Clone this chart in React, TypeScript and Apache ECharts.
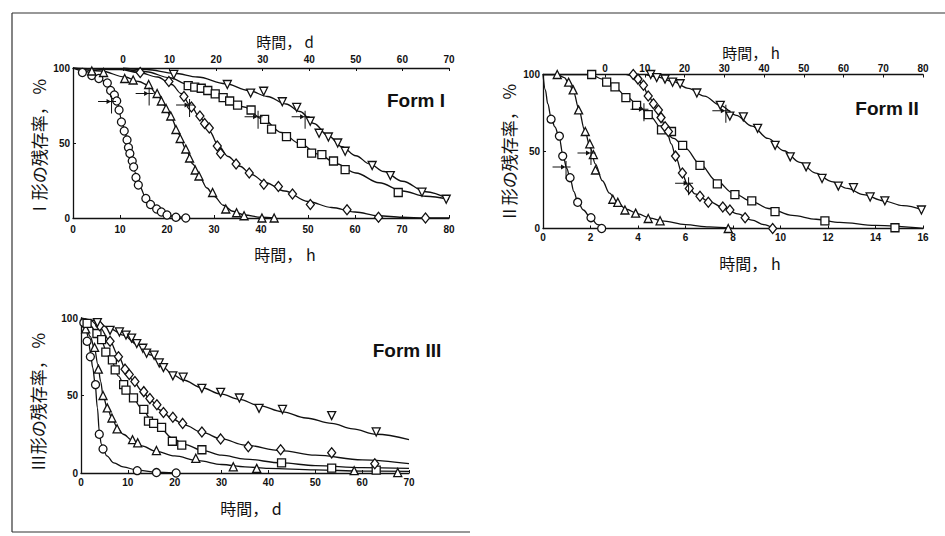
import React, { useEffect, useRef } from "react";
import * as echarts from "echarts";

// ---------- Form I (時間 h: ○ △ ◇ ; 時間 d: □ ▽) ----------
const formI_circle = [[2,97],[4,95],[5.5,93],[7.3,90],[8,85],[8.8,82],[9.3,78],[9.8,72],[10.3,64],[10.9,58],[11.5,52],[11.8,47],[12.1,43],[12.6,38],[12.9,34],[13.4,27],[13.9,22],[15.5,13],[16.5,9],[17.8,6],[18.8,4],[20,2],[21.9,0.5],[24,0]];
const formI_triangle = [[4,98],[6.5,97],[11,93],[12.8,92],[16.1,89],[17.9,83],[18.8,78],[19.8,73],[20.8,68],[21.9,59],[22.8,53],[24,46],[24.8,40],[26,32],[26.8,28],[29.7,17],[32.5,6],[34.8,3.5],[36.4,1.5],[40.2,0],[42.8,0]];
const formI_diamond = [[14.3,97],[20.4,91],[23.6,81],[25.2,74],[27,68],[28,63],[29,60],[30.7,48],[31.4,43],[34.7,36],[37.5,30],[40.6,22.5],[43.7,21],[46.7,16],[50.5,9],[58.3,5.5],[65,0.5],[75,0]];
const formI_square_d = [[14,88.3],[15.4,87.3],[16.8,86.5],[18.2,85],[19.8,82.7],[21.5,80.3],[22.9,78],[24.6,75.3],[27.5,72],[30.4,65.7],[31.9,59.3],[35.1,54.3],[38.3,49.7],[40.5,43.3],[42.7,42.3],[45.2,38],[47.7,32.2],[59.1,17]];
const formI_invTri_d = [[10.9,95.7],[22.4,89],[27.4,83.3],[30.2,84.5],[34.2,77.5],[37.3,73.7],[40.2,64.5],[42.1,56.5],[44.1,54],[46.1,50],[47.7,44.5],[53.5,35],[57.4,28.3],[64.2,17.2],[69.4,12.5]];

const formI_circleFit = [[0,100],[3,97.5],[5.5,94],[7.3,89],[8.5,83],[9.5,76],[10.3,66],[11,58],[11.7,49],[12.5,40],[13.3,30],[14.2,21],[15.5,13.5],[17,8],[19,3.5],[21.5,1],[24,0]];
const formI_triangleFit = [[0,100],[6,98],[11,94],[14,91],[16,88.5],[18,82],[19.5,75],[21,66],[22.5,56],[24,46],[25.5,36],[27,27],[28.5,20],[30,14.5],[32,8.5],[34,4.5],[36.5,2],[40,0.5],[43,0]];
const formI_diamondFit = [[0,100],[10,99],[14,97],[18,94],[21,89],[23,83],[25,75],[27,67],[29,58],[31,48],[33,41],[35.5,34.5],[38,29],[41,23.5],[45,18],[50,11],[55,7],[60,4],[65,1.5],[70,0.5],[75,0],[80,0]];
const formI_squareFit_d = [[0,99.5],[5,97.5],[10,93.5],[14,89],[18,85],[22,80],[26,74],[30,66],[34,57],[38,49.5],[42,42.5],[46,36],[50,30],[55,23.5],[60,18],[65,14.5],[70,12.5]];
const formI_invTriFit_d = [[0,100],[5,99],[11,96.5],[16,94],[22,89.5],[27,85],[31,81],[35,76],[38,71],[41,63],[44,55],[47,47.5],[50,41.5],[53,36],[56,31],[60,24.5],[65,17.5],[70,12.5]];

// arrow marks (○ △ ◇ on h axis, □ ▽ on d axis)
const formI_arrows_h = [[8.2,77.7],[16.2,83],[24.8,75.3]];
const formI_arrows_d = [[29,67.5],[39.1,67.5]];

// ---------- Form II (時間 h bottom: ○ △ □ ◇ ; 時間 h top: ▽) ----------
const formII_circle = [[0.34,71],[0.69,60],[0.83,47],[1.14,33],[1.46,17],[2.02,7],[2.47,0]];
const formII_triangle = [[0.6,100],[1.08,95],[1.27,90],[1.5,77],[1.78,63],[1.97,55],[2.12,48],[2.21,38],[2.94,19],[3.15,17],[3.45,12],[3.9,10],[4.43,6.5],[4.93,5],[7.8,0]];
const formII_square = [[2.05,100],[2.68,95],[3.03,92],[3.49,85],[3.94,80],[4.43,74],[4.99,64],[5.41,63],[5.88,54],[6.61,41],[7.34,29],[8.08,22],[8.79,18],[9.77,11],[11.87,5],[14.82,0.5]];
const formII_diamond = [[3.8,100],[4.0,97],[4.23,93],[4.43,86],[4.65,81],[4.86,77],[4.97,72],[5.14,66],[5.28,63],[5.58,47],[5.87,36],[6.16,26],[6.61,21],[6.96,17],[7.57,14],[7.87,12],[8.51,7],[9.67,0]];
const formII_invTri_top = [[11.5,100],[13,98],[15.1,97],[17,95],[18.9,94],[23.1,88],[29,80],[31.4,73],[34.8,72.5],[38.4,65],[42.8,54],[46.6,46.5],[50.6,40],[54.6,32.5],[58.7,27.5],[62.5,26.5],[66.7,20.5],[70.4,18],[79.6,12]];

const formII_circleFit = [[0,100],[0.1,90],[0.2,81],[0.34,72],[0.5,66],[0.67,60],[0.85,47],[1.0,39],[1.15,32],[1.3,24],[1.46,17.5],[1.7,12],[2.0,7],[2.3,2.5],[2.6,0]];
const formII_triangleFit = [[0,100],[0.6,100],[0.9,98],[1.1,94],[1.3,88],[1.5,78],[1.75,64],[2.0,52],[2.2,42],[2.5,31],[2.8,23],[3.1,17.5],[3.5,12.5],[4,9.5],[4.5,6.8],[5,5],[6,2.5],[7,1],[8,0]];
const formII_squareFit = [[0,100],[2,100],[2.5,97],[3,92],[3.5,86],[4,80],[4.5,73],[5,65],[5.5,58.5],[6,52],[6.6,42],[7.3,31],[8,23],[8.8,17.5],[9.5,13],[10.5,8.5],[11.5,6],[12.5,4],[14,2],[16,0]];
const formII_diamondFit = [[3.5,100],[3.8,99],[4.0,97],[4.2,93],[4.45,86],[4.7,80],[4.95,72],[5.2,64],[5.4,55],[5.6,46],[5.85,36],[6.1,28],[6.4,22.5],[7.0,17.5],[7.6,13.5],[8.2,9.5],[8.8,5.5],[9.3,2.5],[9.7,0]];
const formII_invTriFit_top = [[10,100],[13,98.5],[17,95.5],[21,91],[25,86],[29,80],[33,73.5],[37,66.5],[41,58.5],[45,50.5],[49,43],[53,36],[57,30.5],[61,26],[65,22],[70,18],[75,14.8],[80,12]];

const formII_arrows = [[0.97,40],[2.02,49],[4.25,77.4],[6.13,29.4]]; // ○ △ □ ◇
const formII_arrow_top = [[30.4,76.5]]; // ▽

// ---------- Form III (時間 d) ----------
const formIII_circle = [[0.6,97],[1.3,85],[2,75],[3.1,57],[3.9,25],[4.7,15.5],[12,1.5],[16.1,0.3],[20.3,0]];
const formIII_triangle = [[1,93],[2.9,81],[3.7,67],[4.7,50],[5.6,42],[6.6,35.5],[7.7,28.5],[11,21.5],[12.1,19.5],[16.1,14.5],[24.5,9.5],[32.5,4],[37.5,3],[58.3,1.5],[67.6,0.3]];
const formIII_square = [[1.3,96.5],[3.4,90],[4.4,86],[5.3,78],[6.7,73],[7.3,66.5],[9.1,57],[9.6,53.5],[11.2,48.5],[13.4,41],[14.4,33.5],[15.5,32],[17.2,29.5],[19.5,20.5],[21.5,18],[25.8,15],[42.8,6.5],[53.5,3.2],[63,1.8]];
const formIII_diamond = [[4,95],[6.2,85],[8,75],[9.4,67],[10.3,63.5],[11.5,59],[13.4,52.5],[14.7,48],[16.2,44],[17.6,39],[19.6,36],[21.7,32],[25.8,26.5],[29.8,22],[35.7,17],[42.6,15],[53.5,13],[62.7,6]];
const formIII_invTri = [[3.5,97],[6.2,92],[8.2,91],[9.6,89],[10.8,87],[11.9,83.5],[13.2,80.5],[14,77.3],[15.6,76],[16.7,71],[17.6,68],[19.6,62.7],[21.8,61.8],[25.8,54.6],[29.8,52],[33.8,48.4],[38,41.7],[43,41],[53.5,37],[63,26.5]];

const formIII_circleFit = [[0,98],[1,94],[1.5,88],[2,78],[2.5,68],[3,58],[3.5,42],[3.9,27],[4.3,19],[4.8,15],[5.5,11],[7,6.5],[9,4],[12,1.8],[16,0.5],[20,0]];
const formIII_triangleFit = [[0,97],[1,94],[2,88],[2.9,80],[3.6,70],[4.2,59],[4.7,50],[5.6,42],[6.6,35.5],[7.7,29.5],[9,25],[11,21],[13,17.5],[16,14],[20,11],[25,8],[30,5.5],[35,4],[40,3],[50,2],[60,1.2],[70,1]];
const formIII_squareFit = [[0,99],[2,95],[3.4,90],[4.4,85],[5.5,78],[6.7,71],[8,62.5],[9.5,54.5],[11,48.5],[13,41.5],[15,34.5],[17,28.5],[19.5,22.5],[22,18.5],[26,14.5],[30,11.5],[35,9],[42.8,6.5],[50,4.8],[60,3.5],[70,3]];
const formIII_diamondFit = [[0,100],[2,98.5],[4,94],[6,86],[8,75.5],[9.5,67],[11,60],[13,53],[15,46.5],[17,40.5],[19.5,35],[22,31],[26,26],[30,22],[35,18],[42.6,14.5],[50,11.5],[60,8.5],[70,6]];
const formIII_invTriFit = [[0,100],[3,98.5],[6,93.5],[9,89],[12,83],[15,76],[17.6,68],[19.6,63.5],[21.8,60],[25.8,55],[29.8,51],[33.8,47.5],[38,43.5],[43,39.5],[48,35.5],[53.5,32],[58,28.5],[63,25],[70,21.5]];

// ---------- tick labels ----------
const ticksI_h = [0,10,20,30,40,50,60,70,80];
const ticksI_d = [0,10,20,30,40,50,60,70];
const ticksII_h = [0,2,4,6,8,10,12,14,16];
const ticksII_top = [0,10,20,30,40,50,60,70,80];
const ticksIII_d = [0,10,20,30,40,50,60,70];
const ticksY = [0,50,100];

const INK = "#111";
const NUM_FONT = "'Liberation Sans', Arial, sans-serif";
const JP_FONT = "'Noto Sans CJK JP', 'Noto Sans CJK SC', sans-serif";

const ARROW_PATH = "path://M0,5.5 L18,5.5 L18,6.5 L0,6.5 Z M13,0 L14,0 L14,18 L13,18 Z M8.5,3.5 L13,6 L8.5,8.5 Z";

function markArrow(coord?: number[]) {
  if (!coord) return undefined;
  return {
    symbol: ARROW_PATH,
    symbolSize: [18, 18],
    symbolOffset: [-4.5, 3],
    itemStyle: { color: INK },
    label: { show: false },
    silent: true,
    data: [{ coord }],
  };
}

function pts(name: string, data: number[][], symbol: string, xi: number, yi: number, opts: any = {}) {
  return {
    type: "scatter",
    name,
    data,
    xAxisIndex: xi,
    yAxisIndex: yi,
    symbol,
    symbolSize: opts.size ?? 8,
    symbolRotate: opts.rotate ?? 0,
    itemStyle: { color: "#fff", borderColor: INK, borderWidth: 1.3, opacity: 1 },
    z: 4,
    markPoint: markArrow(opts.arrow),
  };
}

function fit(name: string, data: number[][], xi: number, yi: number) {
  return {
    type: "line",
    name,
    data,
    xAxisIndex: xi,
    yAxisIndex: yi,
    symbol: "none",
    showSymbol: false,
    smooth: 0.35,
    smoothMonotone: "x",
    lineStyle: { color: INK, width: 1.3 },
    z: 3,
  };
}

const axisLineStyle = { lineStyle: { color: INK, width: 1.3 } };
const labelStyle = { color: INK, fontFamily: NUM_FONT, fontSize: 10, fontWeight: "bold" };

function xAxisDef(gridIndex: number, position: string, min: number, max: number, ticks: number[], margin: number) {
  return {
    type: "value",
    gridIndex,
    position,
    min,
    max,
    axisLine: { show: true, onZero: false, ...axisLineStyle },
    axisTick: { show: true, inside: true, length: 3, customValues: ticks, lineStyle: { color: INK, width: 1 } },
    axisLabel: { show: true, customValues: ticks, margin, ...labelStyle },
    splitLine: { show: false },
  };
}

function yAxisDef(gridIndex: number) {
  return {
    type: "value",
    gridIndex,
    min: 0,
    max: 100,
    interval: 50,
    axisLine: { show: true, onZero: false, ...axisLineStyle },
    axisTick: { show: true, inside: true, length: 3, lineStyle: { color: INK, width: 1 } },
    axisLabel: { show: true, margin: 3, ...labelStyle, customValues: ticksY },
    splitLine: { show: false },
  };
}

function txt(text: string, x: number, y: number, font: any, rotation = 0) {
  return {
    type: "text",
    x,
    y,
    rotation,
    silent: true,
    style: {
      text,
      x: 0,
      y: 0,
      fill: INK,
      ...font,
      align: "center",
      verticalAlign: "middle",
      textAlign: "center",
      textVerticalAlign: "middle",
    },
  };
}

function seg(x1: number, y1: number, x2: number, y2: number) {
  return { type: "line", silent: true, shape: { x1, y1, x2, y2 }, style: { stroke: "#333", lineWidth: 1.2 } };
}

const jp = { fontFamily: JP_FONT, fontSize: 16, fontWeight: "normal" };
const jpSmall = { fontFamily: JP_FONT, fontSize: 15, fontWeight: "normal" };
const jpY = { fontFamily: JP_FONT, fontSize: 17, fontWeight: "normal" };
const formFont = { fontFamily: NUM_FONT, fontSize: 19, fontWeight: "bold" };

export default function App() {
  const ref = useRef<HTMLDivElement>(null);
  useEffect(() => {
    if (!ref.current) return;
    const chart = echarts.init(ref.current, undefined, { renderer: "svg" });
    const option: any = {
      animation: false,
      backgroundColor: "#fff",
      grid: [
        { left: 73, top: 68, width: 376, height: 150 },
        { left: 543, top: 74.5, width: 380, height: 154 },
        { left: 81, top: 318, width: 328, height: 155 },
      ],
      xAxis: [
        xAxisDef(0, "bottom", 0, 80, ticksI_h, 6),
        xAxisDef(0, "top", -10.74, 70, ticksI_d, 4),
        xAxisDef(1, "bottom", 0, 16, ticksII_h, 4),
        xAxisDef(1, "top", -15.6, 80, ticksII_top, 1),
        xAxisDef(2, "bottom", 0, 70, ticksIII_d, 4),
      ],
      yAxis: [yAxisDef(0), yAxisDef(1), yAxisDef(2)],
      series: [
        // Form I
        fit("I ○ fit", formI_circleFit, 0, 0),
        fit("I △ fit", formI_triangleFit, 0, 0),
        fit("I ◇ fit", formI_diamondFit, 0, 0),
        fit("I □ fit", formI_squareFit_d, 1, 0),
        fit("I ▽ fit", formI_invTriFit_d, 1, 0),
        pts("I ○", formI_circle, "circle", 0, 0, { arrow: formI_arrows_h[0] }),
        pts("I △", formI_triangle, "triangle", 0, 0, { arrow: formI_arrows_h[1] }),
        pts("I ◇", formI_diamond, "diamond", 0, 0, { size: [8, 10], arrow: formI_arrows_h[2] }),
        pts("I □", formI_square_d, "rect", 1, 0, { size: 8, arrow: formI_arrows_d[0] }),
        pts("I ▽", formI_invTri_d, "triangle", 1, 0, { rotate: 180, arrow: formI_arrows_d[1] }),
        // Form II
        fit("II ○ fit", formII_circleFit, 2, 1),
        fit("II △ fit", formII_triangleFit, 2, 1),
        fit("II □ fit", formII_squareFit, 2, 1),
        fit("II ◇ fit", formII_diamondFit, 2, 1),
        fit("II ▽ fit", formII_invTriFit_top, 3, 1),
        pts("II ○", formII_circle, "circle", 2, 1, { arrow: formII_arrows[0] }),
        pts("II △", formII_triangle, "triangle", 2, 1, { arrow: formII_arrows[1] }),
        pts("II □", formII_square, "rect", 2, 1, { arrow: formII_arrows[2] }),
        pts("II ◇", formII_diamond, "diamond", 2, 1, { size: [8, 10], arrow: formII_arrows[3] }),
        pts("II ▽", formII_invTri_top, "triangle", 3, 1, { rotate: 180, arrow: formII_arrow_top[0] }),
        // Form III
        fit("III ○ fit", formIII_circleFit, 4, 2),
        fit("III △ fit", formIII_triangleFit, 4, 2),
        fit("III □ fit", formIII_squareFit, 4, 2),
        fit("III ◇ fit", formIII_diamondFit, 4, 2),
        fit("III ▽ fit", formIII_invTriFit, 4, 2),
        pts("III ○", formIII_circle, "circle", 4, 2),
        pts("III △", formIII_triangle, "triangle", 4, 2),
        pts("III □", formIII_square, "rect", 4, 2),
        pts("III ◇", formIII_diamond, "diamond", 4, 2, { size: [8, 10] }),
        pts("III ▽", formIII_invTri, "triangle", 4, 2, { rotate: 180 }),
      ],
      graphic: [
        seg(12, 13, 945, 13),
        seg(12, 13, 12, 532),
        seg(12, 532, 470, 532),
        txt("Form I", 416, 100, formFont),
        txt("Form II", 887, 108, formFont),
        txt("Form III", 407, 350, formFont),
        txt("時間， d", 285, 41, jpSmall),
        txt("時間， h", 285, 254, jp),
        txt("時間， h", 751, 52, jpSmall),
        txt("時間， h", 750, 263, jp),
        txt("時間， d", 251, 508, jp),
        txt("Ⅰ形の残存率， %", 38, 148, jpY, Math.PI / 2),
        txt("Ⅱ形の残存率， %", 508, 153, jpY, Math.PI / 2),
        txt("Ⅲ形の残存率， %", 37, 402, jpY, Math.PI / 2),
      ],
    };
    chart.setOption(option);
    return () => chart.dispose();
  }, []);
  return (
    <div
      ref={ref}
      style={{ position: "fixed", left: 0, top: 0, width: 945, height: 536, background: "#fff" }}
    />
  );
}
